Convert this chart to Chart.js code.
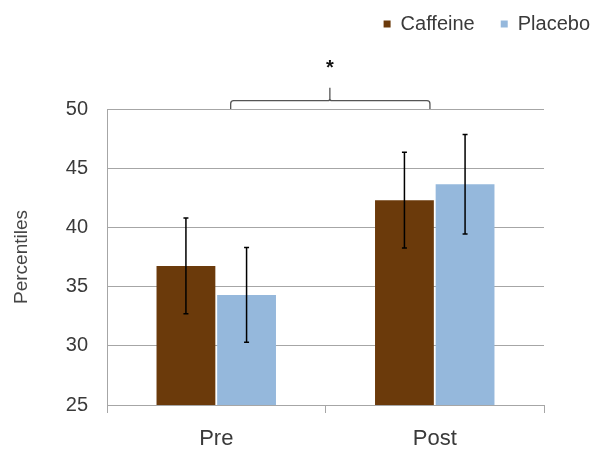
<!DOCTYPE html>
<html>
<head>
<meta charset="utf-8">
<script src="https://cdn.jsdelivr.net/npm/chart.js@4/dist/chart.umd.min.js"></script>
<style>
  html, body { margin: 0; padding: 0; background: #fff; }
  #wrap { width: 597px; height: 450px; }
</style>
</head>
<body>
<div id="wrap"><canvas id="chart"></canvas></div>
<script>
// data
const phases = ['Pre', 'Post'];
const caffeine = [36.75, 42.3];
const placebo = [34.3, 43.65];
const caffeineErr = [4.05, 4.05];
const placeboErr = [4.0, 4.2];
const yTicks = [25, 30, 35, 40, 45, 50];

// significance bracket between the two phases (category index units / y values)
const bracketFrom = 0.066;
const bracketTo = 0.978;
const bracketMid = 0.52;
const bracketBase = 50;
const bracketLine = 50.7;
const bracketTip = 51.8;
const starLevel = 53.4;

const FONT = '"Liberation Sans", Arial, sans-serif';
const TEXT = '#3a3a3a';
const GRID = '#a6a6a6';

// keep room above the plot for the bracket and the star
const legendRoom = {
    id: 'legendRoom',
    beforeInit(chart) {
        const fit = chart.legend.fit;
        chart.legend.fit = function() {
            fit.bind(chart.legend)();
            this.height = 121;
        };
    }
};

const errorBars = {
    id: 'errorBars',
    afterDatasetsDraw(chart) {
        const ctx = chart.ctx;
        const y = chart.scales.y;
        const errs = [caffeineErr, placeboErr];
        ctx.save();
        ctx.strokeStyle = '#000';
        ctx.lineWidth = 1.5;
        chart.data.datasets.forEach((ds, i) => {
            chart.getDatasetMeta(i).data.forEach((bar, j) => {
                const hi = y.getPixelForValue(ds.data[j] + errs[i][j]);
                const lo = y.getPixelForValue(ds.data[j] - errs[i][j]);
                ctx.beginPath();
                ctx.moveTo(bar.x, hi);
                ctx.lineTo(bar.x, lo);
                ctx.moveTo(bar.x - 2.5, hi);
                ctx.lineTo(bar.x + 2.5, hi);
                ctx.moveTo(bar.x - 2.5, lo);
                ctx.lineTo(bar.x + 2.5, lo);
                ctx.stroke();
            });
        });
        ctx.restore();
    }
};

const bracket = {
    id: 'bracket',
    afterDraw(chart) {
        const ctx = chart.ctx;
        const x = chart.scales.x;
        const y = chart.scales.y;
        const l = x.getPixelForValue(bracketFrom);
        const r = x.getPixelForValue(bracketTo);
        const m = x.getPixelForValue(bracketMid);
        const base = y.getPixelForValue(bracketBase);
        const line = y.getPixelForValue(bracketLine);
        const tip = y.getPixelForValue(bracketTip);
        ctx.save();
        ctx.strokeStyle = '#555';
        ctx.lineWidth = 1.3;
        ctx.beginPath();
        ctx.moveTo(l, base);
        ctx.arcTo(l, line, l + 4, line, 3);
        ctx.lineTo(m - 2, line);
        ctx.arcTo(m, line, m, line - 2, 2);
        ctx.lineTo(m, tip);
        ctx.moveTo(m, line - 2);
        ctx.arcTo(m, line, m + 2, line, 2);
        ctx.arcTo(r, line, r, line + 4, 3);
        ctx.lineTo(r, base);
        ctx.stroke();
        ctx.fillStyle = '#111';
        ctx.font = 'bold 20px ' + FONT;
        ctx.textAlign = 'center';
        ctx.textBaseline = 'middle';
        ctx.fillText('*', m, y.getPixelForValue(starLevel));
        ctx.restore();
    }
};

const ctx = document.getElementById('chart').getContext('2d');
new Chart(ctx, {
    type: 'bar',
    data: {
        labels: phases,
        datasets: [
            {
                label: 'Caffeine',
                data: caffeine,
                backgroundColor: '#6b3a0b',
                categoryPercentage: 0.555,
                barPercentage: 0.97
            },
            {
                label: 'Placebo',
                data: placebo,
                backgroundColor: '#95b8dc',
                categoryPercentage: 0.555,
                barPercentage: 0.97
            }
        ]
    },
    options: {
        responsive: true,
        maintainAspectRatio: false,
        animation: false,
        layout: {
            padding: { top: -12, right: -19, left: 0, bottom: 0 }
        },
        scales: {
            x: {
                afterFit: scale => {
                    scale.height = 45;
                },
                grid: {
                    offset: true,
                    drawOnChartArea: false,
                    color: GRID,
                    tickLength: 8
                },
                border: { color: GRID },
                ticks: {
                    color: TEXT,
                    padding: 13,
                    font: { family: FONT, size: 22 }
                }
            },
            y: {
                min: 25,
                max: 50,
                afterBuildTicks: scale => {
                    scale.ticks = yTicks.map(v => ({ value: v }));
                },
                afterFit: scale => {
                    scale.width = 107;
                },
                grid: { color: GRID, tickLength: 0 },
                border: { color: GRID },
                ticks: {
                    color: TEXT,
                    padding: 19,
                    font: { family: FONT, size: 20 }
                },
                title: {
                    display: true,
                    text: 'Percentiles',
                    color: '#444',
                    padding: { top: 10, bottom: 0 },
                    font: { family: FONT, size: 19 }
                }
            },
            yRight: {
                position: 'right',
                grid: { display: false },
                border: { display: false },
                ticks: { display: false },
                afterFit: scale => {
                    scale.width = 72;
                }
            }
        },
        plugins: {
            legend: {
                position: 'top',
                align: 'end',
                labels: {
                    boxWidth: 7,
                    boxHeight: 7,
                    padding: 26,
                    color: TEXT,
                    font: { family: FONT, size: 20 }
                }
            },
            tooltip: { enabled: false }
        }
    },
    plugins: [legendRoom, errorBars, bracket]
});
</script>
</body>
</html>
